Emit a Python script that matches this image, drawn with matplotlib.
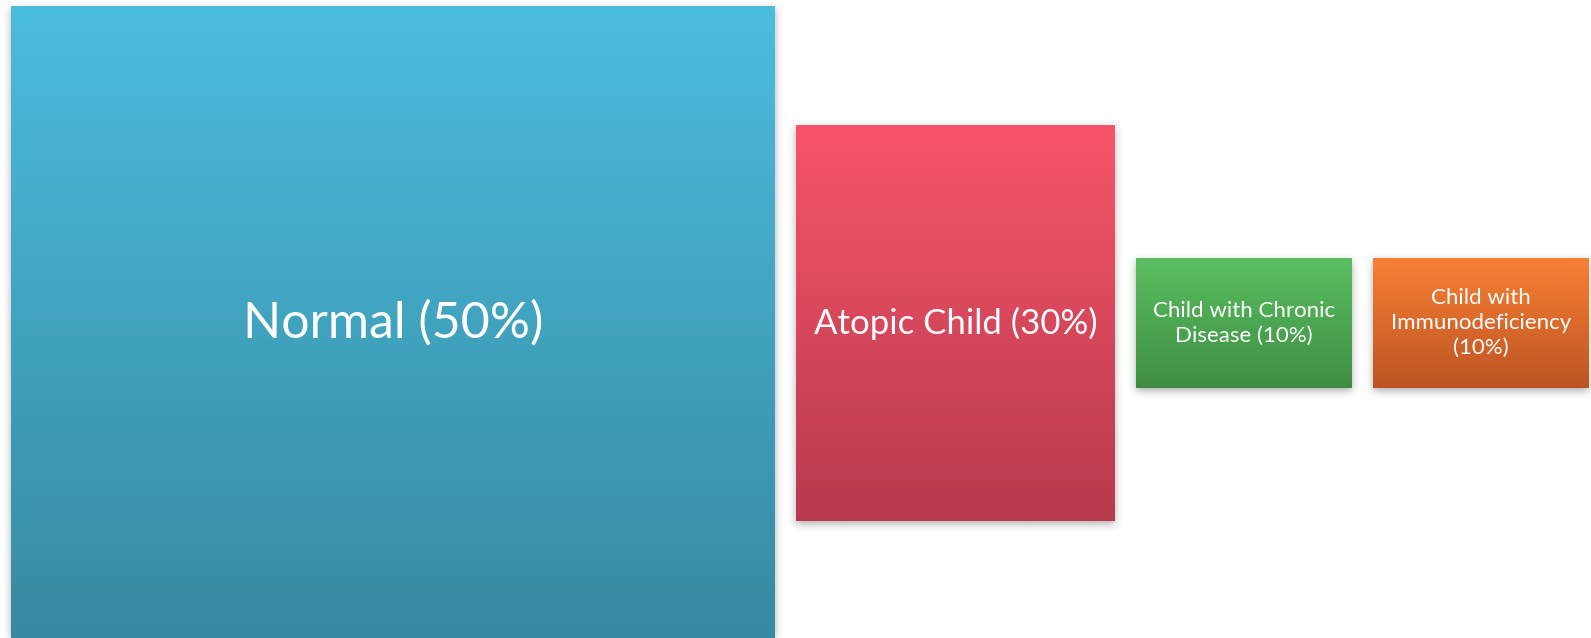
import numpy as np
import matplotlib
matplotlib.use('Agg')
from matplotlib import pyplot as plt
from matplotlib.colors import to_rgb

# Share of children in each group
groups = ['Normal', 'Atopic Child', 'Child with Chronic\nDisease',
          'Child with\nImmunodeficiency\n']
shares = [50, 30, 10, 10]

# Top and bottom colour of each tile's gradient
top_colors = ['#4bbddd', '#f8556b', '#5abf5f', '#f98034']
bottom_colors = ['#36889f', '#b73a4c', '#3f8d44', '#bc5422']
font_sizes = [36, 25, 16, 16]

# Tile boxes in pixels: left, top, right, bottom
boxes = [(11, 6, 775, 660), (796, 125, 1115, 521),
         (1136, 258, 1352, 388), (1373, 258, 1589, 388)]

W, H = 1591, 638
fig = plt.figure(figsize=(W / 100, H / 100), dpi=100)
ax = fig.add_axes([0, 0, 1, 1])
ax.set_xlim(0, W)
ax.set_ylim(H, 0)
ax.axis('off')


def blur(a, r):
    k = np.exp(-0.5 * (np.arange(-3 * r, 3 * r + 1) / r) ** 2)
    k /= k.sum()
    a = np.apply_along_axis(lambda v: np.convolve(v, k, mode='same'), 0, a)
    a = np.apply_along_axis(lambda v: np.convolve(v, k, mode='same'), 1, a)
    return a


# soft drop shadow under all tiles
mask = np.zeros((H, W))
for (l, t, r, b) in boxes:
    mask[max(t + 3, 0):min(b + 3, H), l:r] = 1
shadow = blur(mask, 4) * 0.45
rgba = np.zeros((H, W, 4))
rgba[..., :3] = 0.3
rgba[..., 3] = shadow
ax.imshow(rgba, extent=(0, W, H, 0), zorder=1, interpolation='nearest')

for g, s, c0, c1, fs, (l, t, r, b) in zip(groups, shares, top_colors,
                                          bottom_colors, font_sizes, boxes):
    n = 256
    f = np.linspace(0, 1, n)[:, None]
    grad = (1 - f) * np.array(to_rgb(c0)) + f * np.array(to_rgb(c1))
    ax.imshow(grad[:, None, :], extent=(l, r, b, t), aspect='auto',
              zorder=2, interpolation='bilinear')
    lab = g + ('' if g.endswith('\n') else ' ') + '(%d%%)' % s
    ax.text((l + r) / 2, 323, lab, color='white', fontsize=fs, ha='center',
            va='center', family='Lato', linespacing=1.3, zorder=3)

fig.savefig('out.png', dpi=100, facecolor='white')
